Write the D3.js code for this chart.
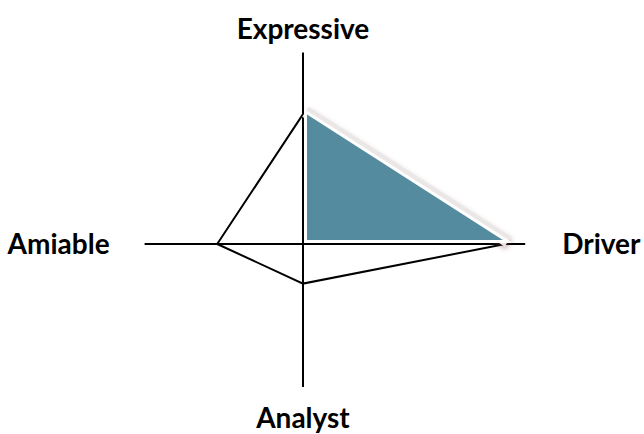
<!DOCTYPE html>
<html lang="en">
<head>
  <meta charset="UTF-8" />
  <title>Social Styles</title>
  <script src="https://d3js.org/d3.v7.min.js"></script>
  <style>
    body { margin: 0; background: #fff; }
    .axis { stroke: #000; stroke-width: 2px; }
    .profile { fill: none; stroke: #000; stroke-width: 2px; stroke-linejoin: miter; }
    .band { fill: none; stroke: #ebe7e7; stroke-width: 12px; stroke-linecap: butt; }
    .quad { fill: #548b9e; stroke: #fff; stroke-width: 3px; stroke-linejoin: miter; }
    .label { font-family: Lato, "Open Sans", sans-serif; font-weight: bold; font-size: 28px; fill: #000; }
  </style>
</head>
<body>
<svg width="644" height="434"></svg>

<script>
// styles, clockwise from the top
const styles = ["Expressive", "Driver", "Analyst", "Amiable"];
const scores = [59, 92, 18, 39];        // profile value per style
const axisMax = [87, 101, 65, 72];      // how far each axis arm runs
const highlight = ["Expressive", "Driver"]; // shaded quadrant

const svg = d3.select("svg");
const cx = 303, cy = 244;
const r = d3.scaleLinear().domain([0, 100]).range([0, 220]);

// unit direction for each style: up, right, down, left
const dir = {
  Expressive: [0, -1],
  Driver: [1, 0],
  Analyst: [0, 1],
  Amiable: [-1, 0]
};
const pt = (s, v) => [cx + dir[s][0] * r(v), cy + dir[s][1] * r(v)];

const defs = svg.append("defs");
defs.append("filter").attr("id", "shadow")
  .attr("x", "-20%").attr("y", "-20%").attr("width", "140%").attr("height", "140%")
  .append("feDropShadow")
  .attr("dx", 1).attr("dy", 3).attr("stdDeviation", 2.5)
  .attr("flood-color", "#7a4646").attr("flood-opacity", 0.4);

// axes
svg.selectAll(".axis")
  .data(styles)
  .enter().append("line")
  .attr("class", "axis")
  .attr("x1", cx).attr("y1", cy)
  .attr("x2", (s, i) => pt(s, axisMax[i])[0])
  .attr("y2", (s, i) => pt(s, axisMax[i])[1]);

// profile outline
svg.append("path")
  .attr("class", "profile")
  .attr("d", d3.line()(styles.map((s, i) => pt(s, scores[i]))) + "Z");

// shaded quadrant on top, nudged off the axes
const hi = highlight.map(s => pt(s, scores[styles.indexOf(s)]));
const quad = svg.append("g").attr("transform", "translate(2.5,-2.5)");
quad.append("path")
  .attr("class", "band")
  .attr("filter", "url(#shadow)")
  .attr("d", d3.line()([hi[0], hi[1]]));
quad.append("path")
  .attr("class", "quad")
  .attr("d", d3.line()([[cx, cy], hi[0], hi[1]]) + "Z");

// labels
const labelPos = {
  Expressive: (e) => ({ x: e[0], y: e[1] - 14, anchor: "middle" }),
  Driver: (e) => ({ x: e[0] + 37, y: e[1] + 10, anchor: "start" }),
  Analyst: (e) => ({ x: e[0], y: e[1] + 41, anchor: "middle" }),
  Amiable: (e) => ({ x: e[0] - 35, y: e[1] + 10, anchor: "end" })
};
svg.selectAll(".label")
  .data(styles)
  .enter().append("text")
  .attr("class", "label")
  .each(function (s, i) {
    const p = labelPos[s](pt(s, axisMax[i]));
    d3.select(this).attr("x", p.x).attr("y", p.y).attr("text-anchor", p.anchor);
  })
  .text(s => s);
</script>
</body>
</html>
